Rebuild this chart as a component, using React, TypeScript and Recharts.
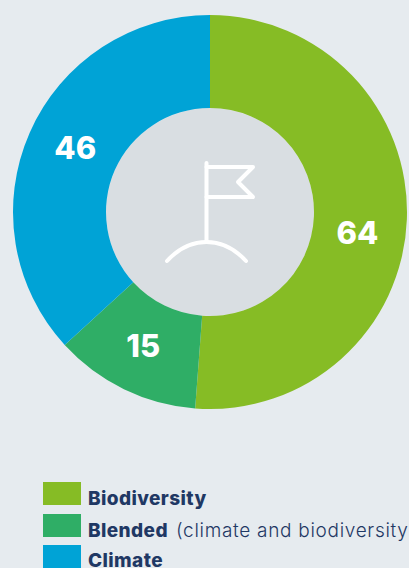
import React from 'react';
import { PieChart, Pie, Cell } from 'recharts';

const categories = ['Biodiversity', 'Blended', 'Climate'];
const values = [64, 15, 46];
const notes = ['', ' (climate and biodiversity)', ''];
const colors = ['#86bc25', '#2fae66', '#00a3d6'];

const data = categories.map((name, i) => ({ name, value: values[i] }));
const RAD = Math.PI / 180;
const labelNudge = [[-3, 15], [-1, -2], [3, -4]];
const swatchTops = [482, 514, 545];
const textTops = [492, 524, 554];

const renderLabel = (p: any) => {
  const r = (p.innerRadius + p.outerRadius) / 2;
  const x = p.cx + r * Math.cos(-p.midAngle * RAD) + labelNudge[p.index][0];
  const y = p.cy + r * Math.sin(-p.midAngle * RAD) + labelNudge[p.index][1];
  return (
    <text x={x} y={y} fill="#fff" textAnchor="middle" dominantBaseline="central"
      style={{ fontFamily: 'Inter', fontWeight: 800, fontSize: 31 }}>
      {p.value}
    </text>
  );
};

export default function App() {
  return (
    <div style={{ position: 'fixed', left: 0, top: 0, width: 409, height: 568, background: '#e6ebef', overflow: 'hidden' }}>
      <PieChart width={409} height={424} margin={{ top: 0, right: 0, bottom: 0, left: 0 }} style={{ position: 'absolute', left: 0, top: 0 }}>
        <Pie
          data={data}
          dataKey="value"
          cx={210}
          cy={212}
          innerRadius={104}
          outerRadius={197}
          startAngle={90}
          endAngle={-270}
          stroke="none"
          label={renderLabel}
          labelLine={false}
          isAnimationActive={false}
        >
          {data.map((d, i) => <Cell key={d.name} fill={colors[i]} />)}
        </Pie>
        <circle cx={210} cy={212} r={104} fill="#d9dee2" />
        <g fill="none" stroke="#fff" strokeWidth={4} strokeLinecap="round" strokeLinejoin="round">
          <path d="M206.5 163V242" />
          <path d="M206.5 167H253L238 182L253 197H206.5" />
          <path d="M167 261C178 249 192 242 206.5 242C221 242 235 249 246 261" />
        </g>
      </PieChart>
      {categories.map((name, i) => (
        <div key={name}>
          <div style={{ position: 'absolute', left: 43, top: swatchTops[i], width: 38, height: 23, background: colors[i] }} />
          <div style={{ position: 'absolute', left: 88, top: textTops[i], whiteSpace: 'nowrap', fontFamily: 'Inter', fontSize: 19, letterSpacing: 0.4, lineHeight: '14px', color: '#1f3864' }}>
            <b style={{ fontWeight: 800 }}>{name}</b><span style={{ fontWeight: 300, letterSpacing: 0.7, marginLeft: 2 }}>{notes[i]}</span>
          </div>
        </div>
      ))}
    </div>
  );
}
